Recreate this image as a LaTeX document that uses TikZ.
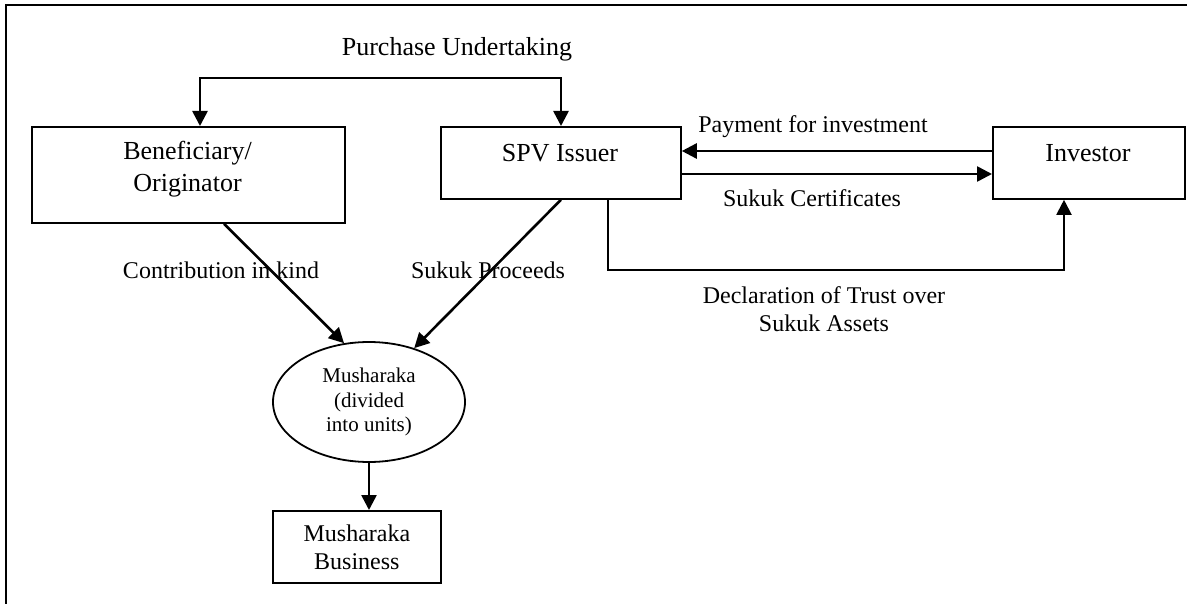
\documentclass[tikz,border=0pt]{standalone}
\usepackage{fontspec}
\setmainfont{Liberation Serif}
\usetikzlibrary{shapes.geometric,arrows.meta}
\tikzset{
  boxnode/.style={draw, line width=1.8pt, rectangle, inner sep=0pt, anchor=north west},
  lbl/.style={font=\fontsize{24}{28}\selectfont, align=center, inner sep=0pt},
  bigtxt/.style={font=\fontsize{26}{32}\selectfont, align=center, inner sep=0pt},
  tip/.style={},
  arr/.style={line width=2.6pt, -{Triangle[length=15pt,width=15pt]}},
}
\begin{document}
\begin{tikzpicture}[x=1pt,y=-1pt]
\useasboundingbox (0,0) rectangle (1187,604);
% outer frame (cut at right and bottom)
\draw[line width=2.4pt] (6,604) -- (6,5) -- (1187,5);

% boxes
\node[boxnode, minimum width=313pt, minimum height=96pt] (ben) at (31,126) {};
\node[bigtxt] (bent) at (187.5,169) {Beneficiary/\\Originator};
\node[boxnode, minimum width=240pt, minimum height=72pt] (spv) at (440,126) {};
\node[bigtxt] (spvt) at (560,153) {SPV Issuer};
\node[boxnode, minimum width=192pt, minimum height=72pt] (inv) at (992,126) {};
\node[bigtxt] (invt) at (1088,153) {Investor};
\node[draw, line width=1.8pt, ellipse, minimum width=192pt, minimum height=120pt, inner sep=0pt,
      font=\fontsize{21}{24.5}\selectfont, align=center] (mush) at (369,402) {Musharaka\\(divided\\into units)};
\node[boxnode, minimum width=168pt, minimum height=72pt, font=\fontsize{24}{28}\selectfont, align=center] (bus) at (272,510) {Musharaka\\Business};

% helper coordinates
\coordinate (pu1) at (200,78);
\coordinate (pu2) at (561,78);
\coordinate (pay) at (0,151);
\coordinate (cert) at (0,174);
\coordinate (d1) at (608,270);
\coordinate (d2) at (1064,270);
\coordinate (c1) at (224,222);

% connectors
\draw[line width=2.6pt, {Triangle[length=15pt,width=15pt]}-{Triangle[length=15pt,width=15pt]}]
  (ben.north -| pu1) -- (pu1) -- (pu2) -- (spv.north -| pu2);
\draw[arr] (inv.west |- pay) -- (spv.east |- pay);
\draw[arr] (spv.east |- cert) -- (inv.west |- cert);
\draw[arr, line width=2pt] (spv.south -| d1) -- (d1) -- (d2) -- (inv.south -| d2);
\draw[arr] (ben.south -| c1) -- (mush.113);
\draw[arr] (spv.south) -- (mush.50);
\draw[arr] (mush.south) -- (mush.south |- bus.north);

% labels
\node[bigtxt] (lpu) at (457,49) {Purchase Undertaking};
\node[lbl] (lpay) at (813,127) {Payment for investment};
\node[lbl] (lcert) at (812,198) {Sukuk Certificates};
\node[lbl] (ldec) at (824,309) {Declaration of Trust over\\Sukuk Assets};
\node[lbl] (lcon) at (221,270) {Contribution in kind};
\node[lbl] (lpro) at (488,270) {Sukuk Proceeds};
\end{tikzpicture}
\end{document}
